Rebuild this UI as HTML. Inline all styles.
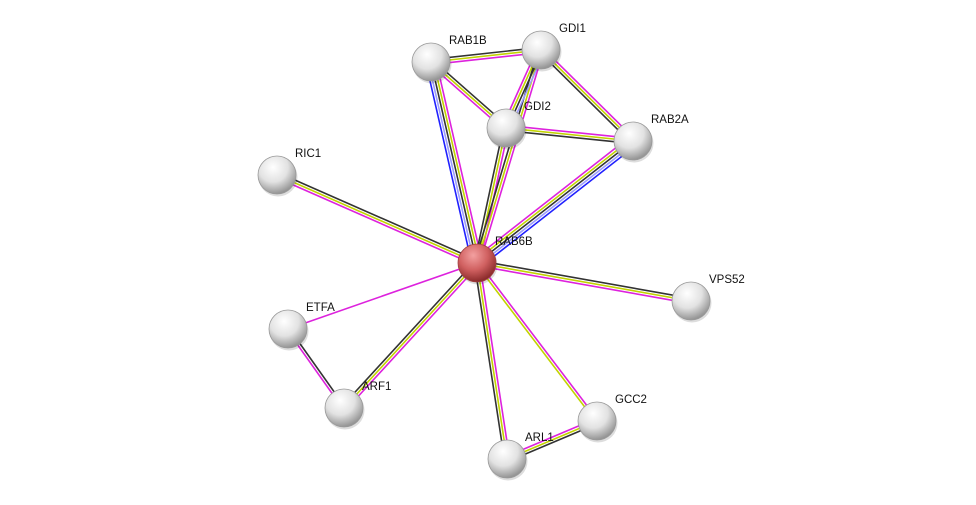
<!DOCTYPE html>
<html><head><meta charset="utf-8"><style>
html,body{margin:0;padding:0;background:#fff;width:976px;height:505px;overflow:hidden}
svg text{font-family:"Liberation Sans",Arial,sans-serif;font-size:11.5px;fill:#111}
</style></head><body>
<svg id="s" width="976" height="505" viewBox="0 0 976 505" xmlns="http://www.w3.org/2000/svg">
<defs>
<radialGradient id="g" cx="40%" cy="30%" r="70%">
<stop offset="0" stop-color="#ffffff"/><stop offset="0.55" stop-color="#e2e2e2"/><stop offset="1" stop-color="#949494"/>
</radialGradient>
<radialGradient id="r" cx="40%" cy="30%" r="70%">
<stop offset="0" stop-color="#f3a0a0"/><stop offset="0.55" stop-color="#d06060"/><stop offset="1" stop-color="#8a2a2a"/>
</radialGradient>
</defs>
<g id="edges"></g><g id="nodes"></g>
</svg>
<script>
var N={RAB6B:[477,263],RAB1B:[431,62],GDI1:[541,50],GDI2:[506,128],RAB2A:[633,141],RIC1:[277,175],VPS52:[691,301],ETFA:[288,329],ARF1:[344,408],GCC2:[597,421],ARL1:[507,459]};
var C={m:"#dd22dd",y:"#c2d300",k:"#333333",b:"#2020ff",l:"#9c9cff"};
var E=[["RAB6B","RAB1B","blkym"],["RAB6B","GDI2","kym"],["RAB6B","GDI1","kym"],["RAB6B","RAB2A","myklb"],["RAB6B","RIC1","myk"],["RAB6B","VPS52","kym"],["RAB6B","ETFA","m"],["RAB6B","ARF1","myk"],["RAB6B","GCC2","my"],["RAB6B","ARL1","myk"],["ETFA","ARF1","km"],["GCC2","ARL1","kym"],["RAB1B","GDI1","kym"],["RAB1B","GDI2","kym"],["GDI1","GDI2","lkym"],["GDI1","RAB2A","myk"],["GDI2","RAB2A","myk"]];
var ns="http://www.w3.org/2000/svg",eg=document.getElementById("edges"),ng=document.getElementById("nodes");
E.forEach(function(e){var a=N[e[0]],b=N[e[1]],dx=b[0]-a[0],dy=b[1]-a[1],L=Math.hypot(dx,dy),px=-dy/L,py=dx/L,n=e[2].length;
for(var i=0;i<n;i++){var o=(i-(n-1)/2)*2.6;var l=document.createElementNS(ns,"line");
l.setAttribute("x1",a[0]+px*o);l.setAttribute("y1",a[1]+py*o);l.setAttribute("x2",b[0]+px*o);l.setAttribute("y2",b[1]+py*o);
l.setAttribute("stroke",C[e[2][i]]);l.setAttribute("stroke-width","1.6");eg.appendChild(l);}});
for(var k in N){var p=N[k];var c=document.createElementNS(ns,"circle");c.setAttribute("cx",p[0]+1);c.setAttribute("cy",p[1]+2);c.setAttribute("r",19.5);c.setAttribute("fill","#00000022");ng.appendChild(c);
c=document.createElementNS(ns,"circle");c.setAttribute("cx",p[0]);c.setAttribute("cy",p[1]);c.setAttribute("r",19);c.setAttribute("fill",k=="RAB6B"?"url(#r)":"url(#g)");c.setAttribute("stroke",k=="RAB6B"?"#a04040":"#999");c.setAttribute("stroke-width","0.8");ng.appendChild(c);
var t=document.createElementNS(ns,"text");t.setAttribute("x",p[0]+18);t.setAttribute("y",p[1]-18);t.textContent=k;ng.appendChild(t);}
</script>
</body></html>
